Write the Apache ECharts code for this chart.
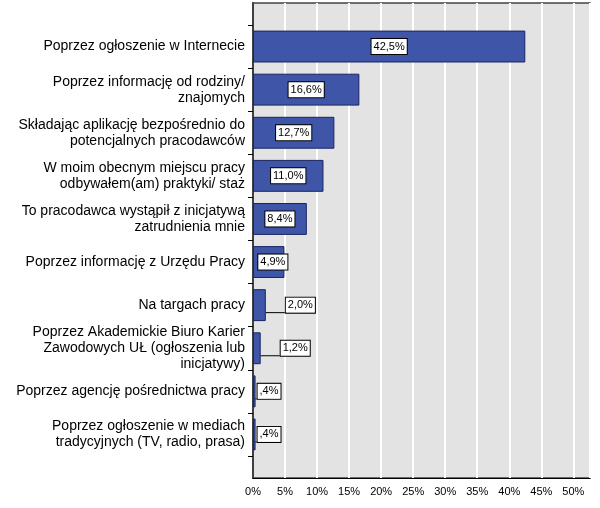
<!DOCTYPE html>
<html><head><meta charset="utf-8">
<script src="https://cdn.jsdelivr.net/npm/echarts@6/dist/echarts.min.js"></script>
<style>html,body{margin:0;background:#fff}#c{width:600px;height:508px}</style>
</head><body><div id="c"></div>
<script>
const categories = ["Poprzez ogłoszenie w Internecie","Poprzez informację od rodziny/\nznajomych","Składając aplikację bezpośrednio do\npotencjalnych pracodawców","W moim obecnym miejscu pracy\nodbywałem(am) praktyki/ staż","To pracodawca wystąpił z inicjatywą\nzatrudnienia mnie","Poprzez informację z Urzędu Pracy","Na targach pracy","Poprzez Akademickie Biuro Karier\nZawodowych UŁ (ogłoszenia lub\ninicjatywy)","Poprzez agencję pośrednictwa pracy","Poprzez ogłoszenie w mediach\ntradycyjnych (TV, radio, prasa)"];
const values = [42.5,16.6,12.7,11.0,8.4,4.9,2.0,1.2,0.4,0.4];
const valueLabels = ["42,5%","16,6%","12,7%","11,0%","8,4%","4,9%","2,0%","1,2%",",4%",",4%"];
const xMax = 52.6;
const font = "'Liberation Sans', Arial, sans-serif";
const labelBox = {backgroundColor:'#fff',borderColor:'#000',borderWidth:1,padding:[2,2],color:'#000',fontSize:11,fontFamily:font};
const data = values.map((v,i)=>{
  const d = {value:v};
  if (v < 3) {
    d.label = Object.assign({show:true,position:'right',distance:v<1?2:20,formatter:valueLabels[i]},labelBox);
    d.labelLine = {show:true};
  } else if (v < 6) {
    d.label = Object.assign({show:true,position:'insideRight',offset:[8,0],formatter:valueLabels[i]},labelBox);
  } else {
    d.label = Object.assign({show:true,position:'inside',formatter:valueLabels[i]},labelBox);
  }
  return d;
});
const chart = echarts.init(document.getElementById('c'));
chart.setOption({
  animation:false,
  grid:[
    {left:253,right:10,top:3,bottom:30,show:true,backgroundColor:'#e3e3e3',borderColor:'#444',borderWidth:1.5},
    {left:253,right:10,top:25,bottom:52}
  ],
  xAxis:[
    {gridIndex:0,type:'value',min:0,max:xMax,interval:5,
     axisLine:{show:true,lineStyle:{color:'#000'}},axisTick:{show:false},
     splitLine:{show:true,lineStyle:{color:'#fff',width:2}},
     axisLabel:{color:'#000',fontSize:11,fontFamily:font,formatter:v=>(v%5===0&&v<=50)?v+'%':'',showMaxLabel:false}},
    {gridIndex:1,type:'value',min:0,max:xMax,show:false,splitLine:{show:false}}
  ],
  yAxis:[
    {gridIndex:0,type:'value',show:true,splitLine:{show:false},axisLabel:{show:false},axisTick:{show:false},
     axisLine:{show:true,lineStyle:{color:'#000',width:1.5}}},
    {gridIndex:1,type:'category',inverse:true,data:categories,
     axisLine:{show:false},axisTick:{show:true,length:5,lineStyle:{color:'#000'}},
     axisLabel:{color:'#000',fontSize:14,fontFamily:font,lineHeight:16,margin:8}}
  ],
  series:[{type:'bar',xAxisIndex:1,yAxisIndex:1,data:data,barCategoryGap:'26%',
    itemStyle:{color:'#3f56a8',borderColor:'#1a2460',borderWidth:1},
    labelLine:{lineStyle:{color:'#000'}}
  }]
});
</script></body></html>
